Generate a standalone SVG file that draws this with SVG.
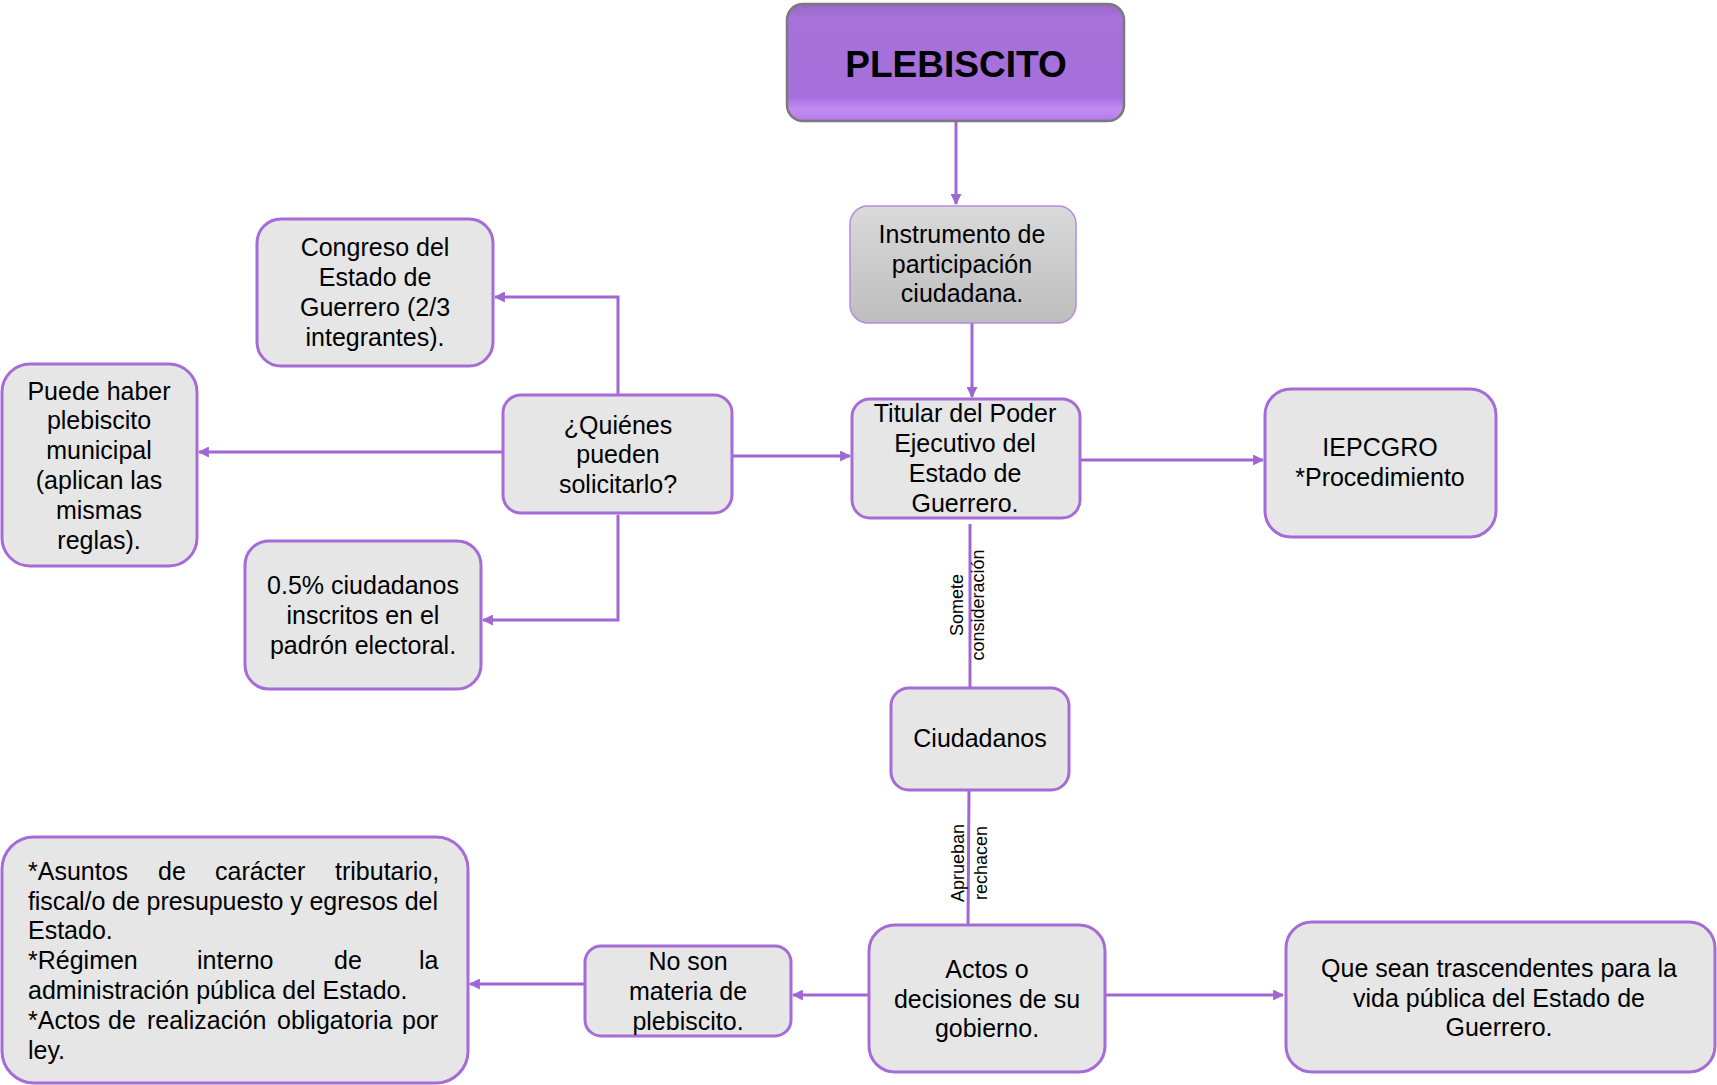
<svg xmlns="http://www.w3.org/2000/svg" width="1717" height="1085" viewBox="0 0 1717 1085">
<style>
.box{fill:#e6e6e6;stroke:#a66bd6;stroke-width:3}
.t{font-family:"Liberation Sans",Arial,sans-serif;font-size:25px;fill:#000;text-anchor:middle}
.tl{font-family:"Liberation Sans",Arial,sans-serif;font-size:25px;fill:#000}
.lab{font-family:"Liberation Sans",Arial,sans-serif;font-size:18px;fill:#000;text-anchor:middle}
.c{fill:none;stroke:#a066d3;stroke-width:3}
</style>
<defs>
<marker id="ah" viewBox="0 0 10 10" refX="9" refY="5" markerWidth="11" markerHeight="11" markerUnits="userSpaceOnUse" orient="auto"><path d="M0,0 L10,5 L0,10z" fill="#a066d3"/></marker>
<linearGradient id="pg" x1="0" y1="0" x2="0" y2="1">
<stop offset="0" stop-color="#9668c4"/>
<stop offset="0.12" stop-color="#a772da"/>
<stop offset="0.8" stop-color="#a66fdc"/>
<stop offset="0.9" stop-color="#c48cf5"/>
<stop offset="1" stop-color="#b07ae6"/>
</linearGradient>
<linearGradient id="gg" x1="0" y1="0" x2="0" y2="1">
<stop offset="0" stop-color="#dadada"/>
<stop offset="1" stop-color="#bdbdbd"/>
</linearGradient>
</defs>
<rect width="1717" height="1085" fill="#fff"/>

<g id="connectors">
<path class="c" d="M956,122 V204" marker-end="url(#ah)"/>
<path class="c" d="M972,323 V397" marker-end="url(#ah)"/>
<path class="c" d="M733,456 H850" marker-end="url(#ah)"/>
<path class="c" d="M1080,460 H1263" marker-end="url(#ah)"/>
<path class="c" d="M618,395 V297 H495" marker-end="url(#ah)"/>
<path class="c" d="M502,452 H199" marker-end="url(#ah)"/>
<path class="c" d="M618,515 V620 H483" marker-end="url(#ah)"/>
<path class="c" d="M970,524 V688"/>
<path class="c" d="M969,790 L968,925"/>
<path class="c" d="M869,995 H793" marker-end="url(#ah)"/>
<path class="c" d="M585,984 H470" marker-end="url(#ah)"/>
<path class="c" d="M1106,995 H1283" marker-end="url(#ah)"/>
<text class="lab" transform="translate(967,605) rotate(-90)"><tspan x="0" y="-4">Somete</tspan><tspan x="0" y="17">consideración</tspan></text>
<text class="lab" transform="translate(968,863) rotate(-90)"><tspan x="0" y="-4">Aprueban</tspan><tspan x="0" y="19">rechacen</tspan></text>
</g>

<g id="plebiscito">
<rect x="787" y="4" width="337" height="117" rx="16" fill="url(#pg)" stroke="#7a7a7a" stroke-width="2.5"/>
<text x="956" y="77" font-family="Liberation Sans,Arial,sans-serif" font-size="37" font-weight="bold" text-anchor="middle">PLEBISCITO</text>
</g>

<g id="instrumento">
<rect x="850" y="206" width="226" height="117" rx="18" fill="url(#gg)" stroke="#b48be0" stroke-width="1.5"/>
<text class="t"><tspan x="962" y="243">Instrumento de</tspan><tspan x="962" y="273">participación</tspan><tspan x="962" y="302">ciudadana.</tspan></text>
</g>

<g id="titular">
<rect class="box" x="852" y="399" width="228" height="119" rx="18"/>
<text class="t"><tspan x="965" y="422">Titular del Poder</tspan><tspan x="965" y="452">Ejecutivo del</tspan><tspan x="965" y="482">Estado de</tspan><tspan x="965" y="512">Guerrero.</tspan></text>
</g>

<g id="iepcgro">
<rect class="box" x="1265" y="389" width="231" height="148" rx="26"/>
<text class="t"><tspan x="1380" y="456">IEPCGRO</tspan><tspan x="1380" y="486">*Procedimiento</tspan></text>
</g>

<g id="quienes">
<rect class="box" x="503" y="395" width="229" height="118" rx="18"/>
<text class="t"><tspan x="618" y="434">¿Quiénes</tspan><tspan x="618" y="463">pueden</tspan><tspan x="618" y="493">solicitarlo?</tspan></text>
</g>

<g id="congreso">
<rect class="box" x="257" y="219" width="236" height="147" rx="24"/>
<text class="t"><tspan x="375" y="256">Congreso del</tspan><tspan x="375" y="286">Estado de</tspan><tspan x="375" y="316">Guerrero (2/3</tspan><tspan x="375" y="346">integrantes).</tspan></text>
</g>

<g id="municipal">
<rect class="box" x="2" y="364" width="195" height="202" rx="28"/>
<text class="t"><tspan x="99" y="400">Puede haber</tspan><tspan x="99" y="429">plebiscito</tspan><tspan x="99" y="459">municipal</tspan><tspan x="99" y="489">(aplican las</tspan><tspan x="99" y="519">mismas</tspan><tspan x="99" y="549">reglas).</tspan></text>
</g>

<g id="ciudadanos05">
<rect class="box" x="245" y="541" width="236" height="148" rx="24"/>
<text class="t"><tspan x="363" y="594">0.5% ciudadanos</tspan><tspan x="363" y="624">inscritos en el</tspan><tspan x="363" y="654">padrón electoral.</tspan></text>
</g>

<g id="ciudadanos">
<rect class="box" x="891" y="688" width="178" height="102" rx="18"/>
<text class="t" x="980" y="747">Ciudadanos</text>
</g>

<g id="actos">
<rect class="box" x="869" y="925" width="236" height="147" rx="26"/>
<text class="t"><tspan x="987" y="978">Actos o</tspan><tspan x="987" y="1008">decisiones de su</tspan><tspan x="987" y="1037">gobierno.</tspan></text>
</g>

<g id="noson">
<rect class="box" x="585" y="946" width="206" height="90" rx="16"/>
<text class="t"><tspan x="688" y="970">No son</tspan><tspan x="688" y="1000">materia de</tspan><tspan x="688" y="1030">plebiscito.</tspan></text>
</g>

<g id="trascendentes">
<rect class="box" x="1286" y="922" width="429" height="150" rx="26"/>
<text class="t"><tspan x="1499" y="977">Que sean trascendentes para la</tspan><tspan x="1499" y="1007">vida pública del Estado de</tspan><tspan x="1499" y="1036">Guerrero.</tspan></text>
</g>

<g id="asuntos">
<rect class="box" x="2" y="837" width="466" height="246" rx="32"/>
<text class="tl" y="880"><tspan x="28">*Asuntos</tspan><tspan x="158">de</tspan><tspan x="215">carácter</tspan><tspan x="335">tributario,</tspan></text>
<text class="tl" x="28" y="910" textLength="410" lengthAdjust="spacing">fiscal/o de presupuesto y egresos del</text>
<text class="tl" x="28" y="939">Estado.</text>
<text class="tl" y="969"><tspan x="28">*Régimen</tspan><tspan x="197">interno</tspan><tspan x="334">de</tspan><tspan x="419">la</tspan></text>
<text class="tl" x="28" y="999">administración pública del Estado.</text>
<text class="tl" y="1029"><tspan x="28">*Actos</tspan><tspan x="108">de</tspan><tspan x="147">realización</tspan><tspan x="277">obligatoria</tspan><tspan x="402">por</tspan></text>
<text class="tl" x="28" y="1059">ley.</text>
</g>
</svg>
